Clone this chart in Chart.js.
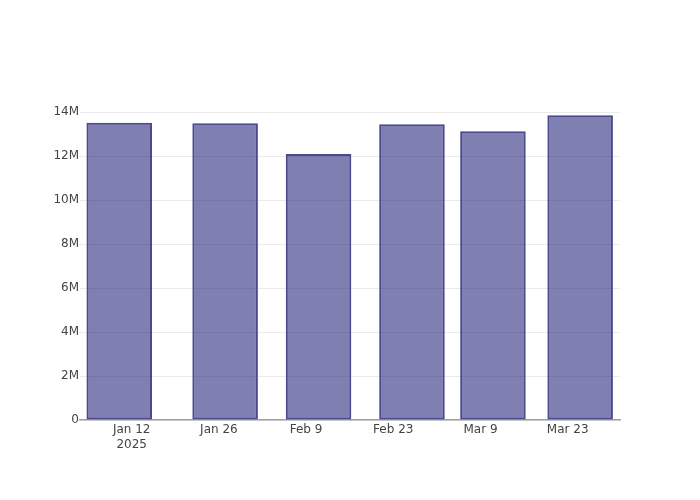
<!DOCTYPE html>
<html>
<head>
<meta charset="utf-8">
<script src="https://cdn.jsdelivr.net/npm/chart.js@4.4.1/dist/chart.umd.min.js"></script>
<style>
  html, body { margin: 0; background: #fff; }
</style>
</head>
<body>
<canvas id="chart" width="700" height="500"></canvas>
<script>
// data
const barDates = ['2025-01-10', '2025-01-27', '2025-02-11', '2025-02-26', '2025-03-11', '2025-03-25'];
const barValues = [13.52e6, 13.49e6, 12.10e6, 13.45e6, 13.13e6, 13.86e6];
const xTickDates = ['2025-01-12', '2025-01-26', '2025-02-09', '2025-02-23', '2025-03-09', '2025-03-23'];
const yTickValues = [0, 2e6, 4e6, 6e6, 8e6, 10e6, 12e6, 14e6];

const monthNames = ['Jan', 'Feb', 'Mar', 'Apr', 'May', 'Jun', 'Jul', 'Aug', 'Sep', 'Oct', 'Nov', 'Dec'];
const toDay = s => Date.parse(s + 'T00:00:00Z') / 86400000;
const fmtDay = d => {
    const dt = new Date(d * 86400000);
    return monthNames[dt.getUTCMonth()] + ' ' + dt.getUTCDate();
};

const firstTick = toDay(xTickDates[0]);
const fontSpec = {family: 'DejaVu Sans', size: 12};

new Chart(document.getElementById('chart').getContext('2d'), {
    type: 'bar',
    data: {
        datasets: [{
            data: barDates.map((d, i) => ({x: toDay(d), y: barValues[i]})),
            backgroundColor: 'rgba(0,0,100,0.5)',
            borderColor: 'rgb(75,74,145)',
            borderWidth: 2,
            borderSkipped: false,
            categoryPercentage: 1,
            barPercentage: 0.81
        }]
    },
    options: {
        responsive: false,
        animation: false,
        layout: {padding: {top: 100, right: 80, left: 0, bottom: 0}},
        plugins: {legend: {display: false}, tooltip: {enabled: false}},
        scales: {
            x: {
                type: 'linear',
                offset: false,
                min: firstTick - 8.3,
                max: firstTick + 78.4,
                afterBuildTicks: s => { s.ticks = xTickDates.map(d => ({value: toDay(d)})); },
                afterFit: s => { s.height = 80; },
                grid: {display: false, drawTicks: false},
                border: {display: true, color: '#a0a0a0', width: 1.5},
                ticks: {
                    color: '#444',
                    font: fontSpec,
                    padding: 3,
                    maxRotation: 0,
                    autoSkip: false,
                    callback: (v, i) => i === 0 ? [fmtDay(v), '2025'] : fmtDay(v)
                }
            },
            y: {
                min: 0,
                max: 14.55e6,
                afterBuildTicks: s => { s.ticks = yTickValues.map(v => ({value: v})); },
                afterFit: s => { s.width = 80; },
                grid: {color: '#eaeaea', lineWidth: 1, drawTicks: false},
                border: {display: false},
                ticks: {
                    color: '#444',
                    font: fontSpec,
                    padding: 1,
                    callback: v => v === 0 ? '0' : (v / 1e6) + 'M'
                }
            }
        }
    }
});
</script>
</body>
</html>
